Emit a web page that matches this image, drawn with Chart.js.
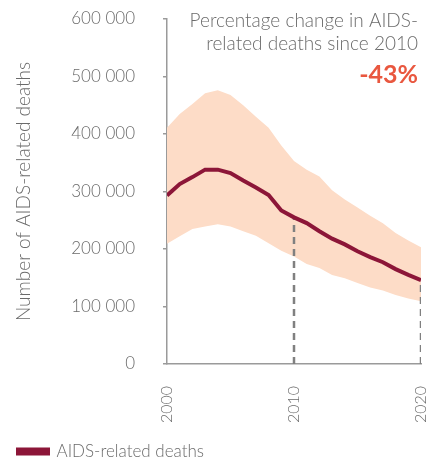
<!DOCTYPE html>
<html>
<head>
  <meta charset="UTF-8">
  <title>AIDS-related deaths</title>
  <script src="https://cdn.jsdelivr.net/npm/chart.js"></script>
  <style>
    body { margin: 0; background: #fff; }
  </style>
</head>
<body>
<canvas id="myChart" width="438" height="462"></canvas>

<script>
  // data
  const years = [2000, 2001, 2002, 2003, 2004, 2005, 2006, 2007, 2008, 2009, 2010,
                 2011, 2012, 2013, 2014, 2015, 2016, 2017, 2018, 2019, 2020];
  const deaths = [293000, 313000, 325000, 338000, 338000, 332000, 319000, 307000, 294000, 267000, 255000,
                  245000, 231000, 218000, 208000, 196000, 186000, 177000, 165000, 155000, 146000];
  const upper = [411000, 435000, 452000, 471000, 476000, 468000, 450000, 430000, 411000, 380000, 353000,
                 338000, 326000, 302000, 286000, 272000, 258000, 245000, 228000, 215000, 203000];
  const lower = [209000, 222000, 235000, 239000, 243000, 239000, 231000, 223000, 210000, 197000, 187000,
                 174000, 167000, 155000, 149000, 141000, 133000, 128000, 120000, 114000, 109000];
  const markYears = [2010, 2020];
  const yTicks = [0, 100000, 200000, 300000, 400000, 500000, 600000];
  const xTicks = [2000, 2010, 2020];

  const grey = '#6b6b6b';
  const crimson = '#8c1638';
  const font = 'Lato';

  function pts(vals) {
    return years.map((y, i) => ({x: y, y: vals[i]}));
  }

  const datasets = [{
    label: 'AIDS-related deaths',
    data: pts(deaths),
    borderColor: crimson,
    backgroundColor: crimson,
    borderWidth: 4,
    pointRadius: 0,
    tension: 0,
    order: 0
  }, {
    label: 'upper',
    data: pts(upper),
    borderWidth: 0,
    borderColor: 'rgba(0,0,0,0)',
    backgroundColor: '#fddcc7',
    pointRadius: 0,
    fill: '+1',
    order: 3
  }, {
    label: 'lower',
    data: pts(lower),
    borderWidth: 0,
    borderColor: 'rgba(0,0,0,0)',
    pointRadius: 0,
    fill: false,
    order: 3
  }];

  markYears.forEach(function (yr) {
    datasets.push({
      label: 'mark' + yr,
      data: [{x: yr, y: 0}, {x: yr, y: deaths[years.indexOf(yr)]}],
      borderColor: '#808080',
      borderWidth: 2.5,
      borderDash: [7, 5],
      pointRadius: 0,
      order: 1
    });
  });

  // text in the upper right corner
  const note = {
    id: 'note',
    afterDraw(chart) {
      const c = chart.ctx;
      const x = 418;
      c.save();
      c.textAlign = 'right';
      c.textBaseline = 'alphabetic';
      c.fillStyle = grey;
      c.font = '300 19px ' + font;
      c.fillText('Percentage change in AIDS-', x, 27);
      c.fillText('related deaths since 2010', x, 50);
      c.fillStyle = '#e9573f';
      c.font = 'bold 25px ' + font;
      c.fillText('-43%', x, 83);
      c.restore();
    }
  };

  const ctx = document.getElementById('myChart');
  const chart = new Chart(ctx, {
    type: 'line',
    data: {datasets: datasets},
    plugins: [note],
    options: {
      responsive: false,
      devicePixelRatio: 1,
      animation: false,
      layout: {padding: {left: 4, right: 17, top: 19, bottom: -8}},
      plugins: {
        tooltip: {enabled: false},
        legend: {
          position: 'bottom',
          align: 'start',
          labels: {
            boxWidth: 30,
            boxHeight: 4,
            padding: 14,
            color: grey,
            font: {family: font, size: 17, weight: '300'},
            filter: item => item.text === 'AIDS-related deaths'
          }
        }
      },
      scales: {
        x: {
          type: 'linear',
          min: 2000,
          max: 2020,
          afterBuildTicks: s => { s.ticks = xTicks.map(v => ({value: v})); },
          ticks: {
            minRotation: 90,
            maxRotation: 90,
            padding: 14,
            color: grey,
            font: {family: font, size: 16, weight: '300'},
            callback: v => String(v)
          },
          grid: {display: false},
          border: {display: true, color: '#9a9a9a', width: 1.5},
          afterFit: s => {
            s.height = 65;
            s.paddingLeft = 0;
            s.paddingRight = 0;
          }
        },
        y: {
          min: 0,
          max: 600000,
          afterBuildTicks: s => { s.ticks = yTicks.map(v => ({value: v})); },
          ticks: {
            padding: 28,
            color: grey,
            font: {family: font, size: 17, weight: '300'},
            callback: v => String(v).replace(/\B(?=(\d{3})+(?!\d))/g, ' ')
          },
          grid: {drawOnChartArea: false, drawTicks: true, tickLength: 4, color: '#9a9a9a', lineWidth: 1.5},
          border: {display: true, color: '#9a9a9a', width: 1.5},
          title: {
            display: true,
            text: 'Number of AIDS-related deaths',
            color: grey,
            font: {family: font, size: 19, weight: '300'},
            padding: {top: 8, bottom: 0}
          },
          afterFit: s => {
            s.width = 163;
            s.paddingTop = 0;
            s.paddingBottom = 0;
          }
        }
      }
    }
  });
</script>

</body>
</html>
